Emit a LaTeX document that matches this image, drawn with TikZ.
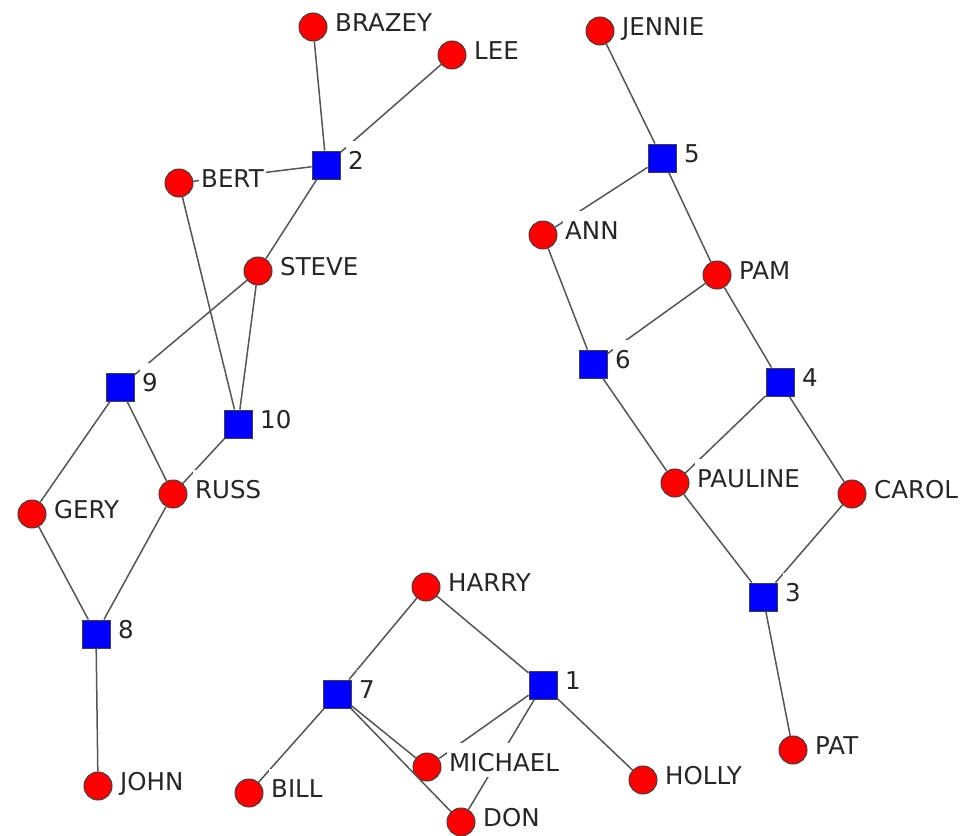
\documentclass[tikz,border=0pt]{standalone}
\usepackage{fontspec}
\setmainfont{DejaVu Sans}
\definecolor{actorred}{HTML}{FF0000}
\definecolor{eventblue}{HTML}{0000FF}
\definecolor{edgegray}{HTML}{555555}
\begin{document}
\begin{tikzpicture}[x=1pt,y=-1pt,
  actor/.style={circle, fill=actorred, draw=black!75, line width=1pt, minimum size=28pt, inner sep=0pt},
  event/.style={rectangle, fill=eventblue, draw=black!75, line width=1pt, minimum size=28pt, inner sep=0pt},
  tie/.style={draw=edgegray, line width=1.5pt},
  tag/.style={anchor=base west, fill=white, inner xsep=2pt, inner ysep=0pt,
              font=\fontsize{24.5}{28}\selectfont,
              text height=28pt, text depth=6pt, text=black!85}]
\useasboundingbox (0,0) rectangle (966,835);

% actors (red circles)
\node[actor] (BRAZEY)  at (313,27)  {};
\node[actor] (LEE)     at (452,55)  {};
\node[actor] (BERT)    at (179,183) {};
\node[actor] (STEVE)   at (258,271) {};
\node[actor] (GERY)    at (32,514)  {};
\node[actor] (RUSS)    at (173,494) {};
\node[actor] (JOHN)    at (98,786)  {};
\node[actor] (HARRY)   at (426,587) {};
\node[actor] (BILL)    at (249,793) {};
\node[actor] (MICHAEL) at (427,767) {};
\node[actor] (DON)     at (461,822) {};
\node[actor] (HOLLY)   at (643,780) {};
\node[actor] (JENNIE)  at (600,31)  {};
\node[actor] (ANN)     at (543,235) {};
\node[actor] (PAM)     at (717,275) {};
\node[actor] (PAULINE) at (675,483) {};
\node[actor] (CAROL)   at (852,494) {};
\node[actor] (PAT)     at (793,750) {};

% events (blue squares)
\node[event] (E1)  at (543,685) {};
\node[event] (E2)  at (326,165) {};
\node[event] (E3)  at (763,597) {};
\node[event] (E4)  at (780,382) {};
\node[event] (E5)  at (662,158) {};
\node[event] (E6)  at (593,364) {};
\node[event] (E7)  at (337,694) {};
\node[event] (E8)  at (96,634)  {};
\node[event] (E9)  at (120,387) {};
\node[event] (E10) at (238,424) {};

% ties
\draw[tie] (BRAZEY) -- (E2);
\draw[tie] (LEE) -- (E2);
\draw[tie] (BERT) -- (E2);
\draw[tie] (STEVE) -- (E2);
\draw[tie] (BERT) -- (E10);
\draw[tie] (STEVE) -- (E10);
\draw[tie] (STEVE) -- (E9);
\draw[tie] (E9) -- (GERY);
\draw[tie] (E9) -- (RUSS);
\draw[tie] (E10) -- (RUSS);
\draw[tie] (GERY) -- (E8);
\draw[tie] (RUSS) -- (E8);
\draw[tie] (E8) -- (JOHN);
\draw[tie] (HARRY) -- (E7);
\draw[tie] (HARRY) -- (E1);
\draw[tie] (E7) -- (BILL);
\draw[tie] (E7) -- (MICHAEL);
\draw[tie] (E7) -- (DON);
\draw[tie] (E1) -- (MICHAEL);
\draw[tie] (E1) -- (DON);
\draw[tie] (E1) -- (HOLLY);
\draw[tie] (JENNIE) -- (E5);
\draw[tie] (ANN) -- (E5);
\draw[tie] (E5) -- (PAM);
\draw[tie] (ANN) -- (E6);
\draw[tie] (PAM) -- (E6);
\draw[tie] (PAM) -- (E4);
\draw[tie] (E6) -- (PAULINE);
\draw[tie] (E4) -- (PAULINE);
\draw[tie] (E4) -- (CAROL);
\draw[tie] (PAULINE) -- (E3);
\draw[tie] (CAROL) -- (E3);
\draw[tie] (E3) -- (PAT);

% labels, set on white boxes over the ties
\node[tag] (tBRAZEY)  at ([shift={(20,4)}]BRAZEY)  {BRAZEY};
\node[tag] (tLEE)     at ([shift={(20,4)}]LEE)     {LEE};
\node[tag] (tBERT)    at ([shift={(20,4)}]BERT)    {BERT};
\node[tag] (tSTEVE)   at ([shift={(20,4)}]STEVE)   {STEVE};
\node[tag] (tGERY)    at ([shift={(20,4)}]GERY)    {GERY};
\node[tag] (tRUSS)    at ([shift={(20,4)}]RUSS)    {RUSS};
\node[tag] (tJOHN)    at ([shift={(20,4)}]JOHN)    {JOHN};
\node[tag] (tHARRY)   at ([shift={(20,4)}]HARRY)   {HARRY};
\node[tag] (tBILL)    at ([shift={(20,4)}]BILL)    {BILL};
\node[tag] (tMICHAEL) at ([shift={(20,4)}]MICHAEL) {MICHAEL};
\node[tag] (tDON)     at ([shift={(20,4)}]DON)     {DON};
\node[tag] (tHOLLY)   at ([shift={(20,4)}]HOLLY)   {HOLLY};
\node[tag] (tJENNIE)  at ([shift={(20,4)}]JENNIE)  {JENNIE};
\node[tag] (tANN)     at ([shift={(20,4)}]ANN)     {ANN};
\node[tag] (tPAM)     at ([shift={(20,4)}]PAM)     {PAM};
\node[tag] (tPAULINE) at ([shift={(20,4)}]PAULINE) {PAULINE};
\node[tag] (tCAROL)   at ([shift={(20,4)}]CAROL)   {CAROL};
\node[tag] (tPAT)     at ([shift={(20,4)}]PAT)     {PAT};
\node[tag] (t1)  at ([shift={(20,4)}]E1)  {1};
\node[tag] (t2)  at ([shift={(20,4)}]E2)  {2};
\node[tag] (t3)  at ([shift={(20,4)}]E3)  {3};
\node[tag] (t4)  at ([shift={(20,4)}]E4)  {4};
\node[tag] (t5)  at ([shift={(20,4)}]E5)  {5};
\node[tag] (t6)  at ([shift={(20,4)}]E6)  {6};
\node[tag] (t7)  at ([shift={(20,4)}]E7)  {7};
\node[tag] (t8)  at ([shift={(20,4)}]E8)  {8};
\node[tag] (t9)  at ([shift={(20,4)}]E9)  {9};
\node[tag] (t10) at ([shift={(20,4)}]E10) {10};
\end{tikzpicture}
\end{document}
